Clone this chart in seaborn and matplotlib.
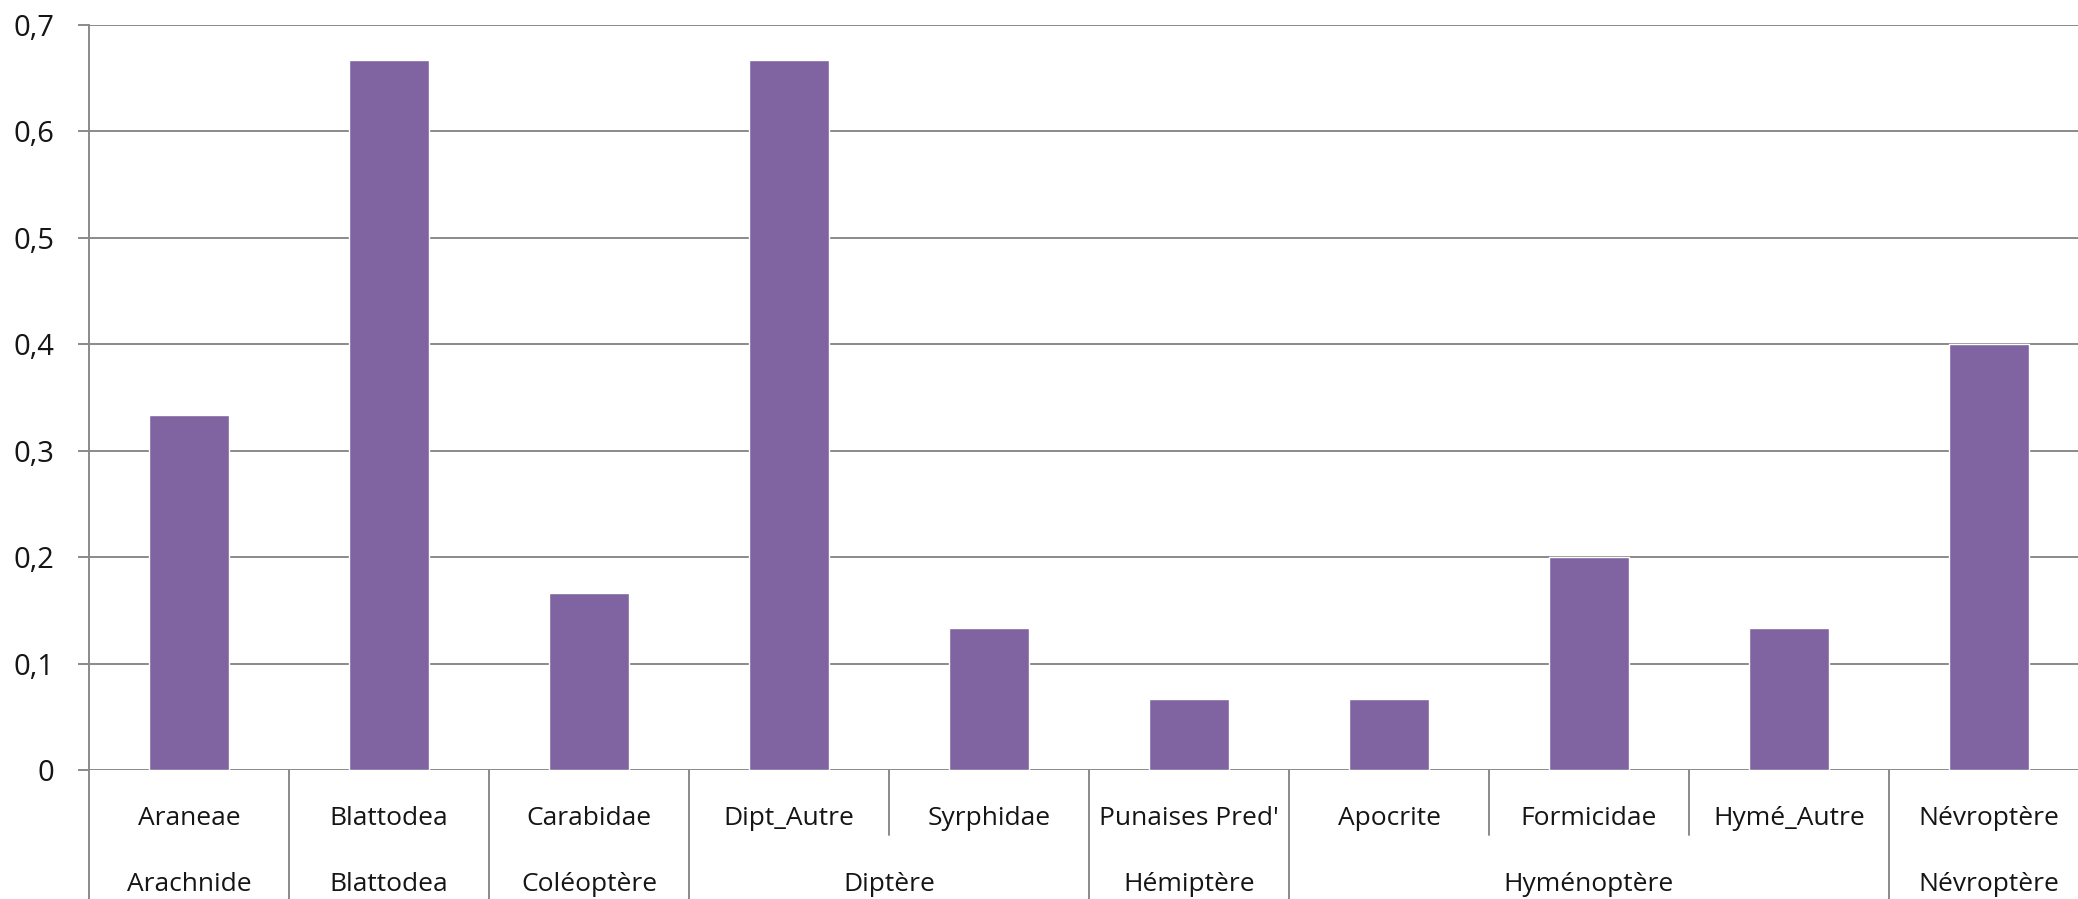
import matplotlib
matplotlib.use('Agg')
import matplotlib.pyplot as plt
import seaborn as sns
import pandas as pd
from matplotlib.transforms import blended_transform_factory
from matplotlib.ticker import FuncFormatter, FixedLocator

categories = ["Araneae", "Blattodea", "Carabidae", "Dipt_Autre", "Syrphidae",
              "Punaises Pred'", "Apocrite", "Formicidae", "Hymé_Autre", "Névroptère"]
groups = ["Arachnide", "Blattodea", "Coléoptère", "Diptère", "Diptère",
          "Hémiptère", "Hyménoptère", "Hyménoptère", "Hyménoptère", "Névroptère"]
values = [0.3333, 0.6667, 0.1667, 0.6667, 0.1333, 0.0667, 0.0667, 0.2, 0.1333, 0.4]
y_ticks = [0, 0.1, 0.2, 0.3, 0.4, 0.5, 0.6, 0.7]

sns.set_theme(style="white")
plt.rcParams['font.family'] = ['Open Sans', 'DejaVu Sans']

W, H = 2078, 899
fig = plt.figure(figsize=(W / 100, H / 100), dpi=100)
ax = fig.add_axes([89 / W, (H - 770) / H, 2000 / W, 745 / H])

df = pd.DataFrame({"cat": categories, "val": values, "grp": groups})
bar_color = "#8064A2"
sns.barplot(data=df, x="cat", y="val", color=bar_color, width=0.4,
            saturation=1, errorbar=None, ax=ax, zorder=3)

grid_c = "#8a8a8a"
txt_c = "#151515"
ax.set_xlim(-0.5, len(categories) - 0.5)
ax.set_ylim(0, 0.7)
ax.yaxis.set_major_locator(FixedLocator(y_ticks))
ax.yaxis.set_major_formatter(FuncFormatter(lambda v, p: ("%g" % round(v, 1)).replace('.', ',')))
ax.yaxis.grid(True, color=grid_c, lw=1.4)
ax.set_axisbelow(True)
ax.tick_params(axis='y', length=8, width=1.4, color=grid_c, pad=17,
               labelsize=21, labelcolor=txt_c, left=True)
ax.set_xticks([])
ax.set_xlabel("")
ax.set_ylabel("")
for s in ["top", "right", "bottom"]:
    ax.spines[s].set_visible(False)
ax.spines["left"].set_color(grid_c)
ax.spines["left"].set_linewidth(1.4)

trans = blended_transform_factory(ax.transData, ax.transAxes)
full_bottom = -0.2
inner_bottom = -65 / 745
row1_y = -55 / 745
row2_y = -121 / 745

# separators
for b in range(len(categories)):
    xb = b - 0.5
    if b == 0 or groups[b] != groups[b - 1]:
        y0 = full_bottom
    else:
        y0 = inner_bottom
    ax.plot([xb, xb], [0, y0], transform=trans, color=grid_c, lw=1.4,
            clip_on=False, zorder=1)

# row 1 labels
for i, c in enumerate(categories):
    ax.text(i, row1_y, c, transform=trans, ha='center', va='baseline',
            fontsize=19, color=txt_c, clip_on=False)

# row 2 group labels
start = 0
for i in range(1, len(groups) + 1):
    if i == len(groups) or groups[i] != groups[start]:
        center = (start + i - 1) / 2
        ax.text(center, row2_y, groups[start], transform=trans, ha='center',
                va='baseline', fontsize=19, color=txt_c, clip_on=False)
        start = i

fig.savefig("out.png", dpi=100)
